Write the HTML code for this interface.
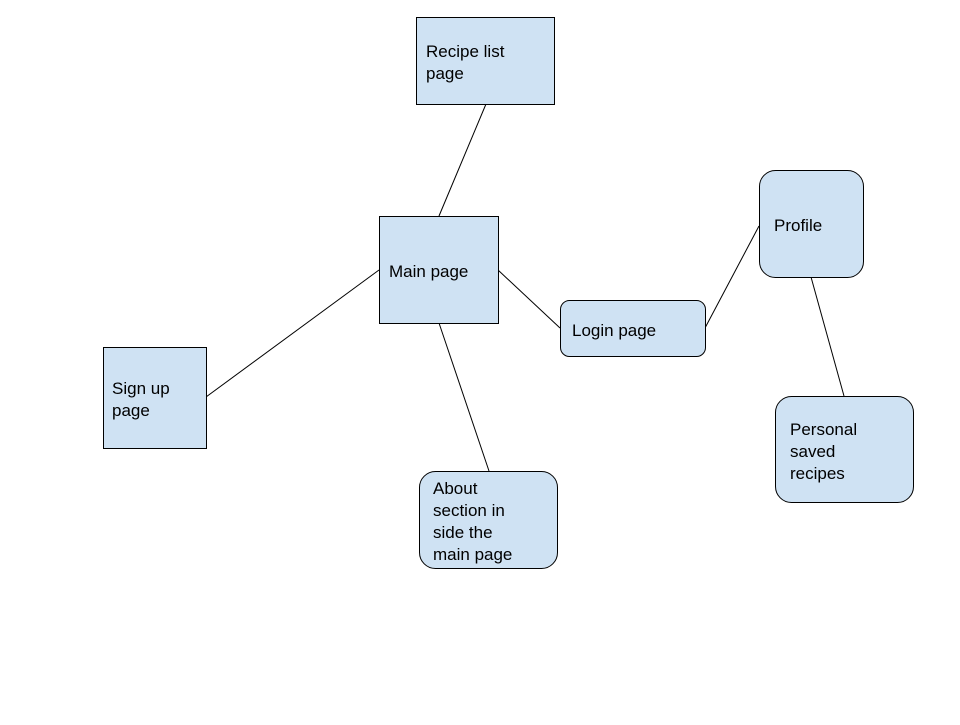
<!DOCTYPE html>
<html><head><meta charset="utf-8"><style>
body{margin:0;background:#fff;width:960px;height:720px;overflow:hidden}
svg text{font-family:"Liberation Sans",Arial,sans-serif;font-size:17px;fill:#000}
</style></head><body>
<svg width="960" height="720" xmlns="http://www.w3.org/2000/svg">
<g stroke="#000" stroke-width="1" fill="none">
<line x1="486" y1="104" x2="439" y2="216"/>
<line x1="379" y1="270" x2="206" y2="397"/>
<line x1="498" y1="270" x2="560" y2="328"/>
<line x1="439" y1="323" x2="489" y2="471"/>
<line x1="705" y1="328" x2="759" y2="226"/>
<line x1="811" y1="277" x2="844" y2="396"/>
</g>
<g stroke="#000" stroke-width="1" fill="#cfe2f3">
<rect x="416.5" y="17.5" width="138" height="87"/>
<rect x="379.5" y="216.5" width="119" height="107"/>
<rect x="103.5" y="347.5" width="103" height="101"/>
<rect x="560.5" y="300.5" width="145" height="56" rx="9"/>
<rect x="759.5" y="170.5" width="104" height="107" rx="16"/>
<rect x="775.5" y="396.5" width="138" height="106" rx="16"/>
<rect x="419.5" y="471.5" width="138" height="97" rx="16"/>
</g>
<text x="426" y="57">Recipe list</text>
<text x="426" y="79">page</text>
<text x="389" y="277">Main page</text>
<text x="112" y="394">Sign up</text>
<text x="112" y="416">page</text>
<text x="572" y="336">Login page</text>
<text x="774" y="231">Profile</text>
<text x="790" y="435">Personal</text>
<text x="790" y="457">saved</text>
<text x="790" y="479">recipes</text>
<text x="433" y="494">About</text>
<text x="433" y="516">section in</text>
<text x="433" y="538">side the</text>
<text x="433" y="560">main page</text>
</svg>
</body></html>
